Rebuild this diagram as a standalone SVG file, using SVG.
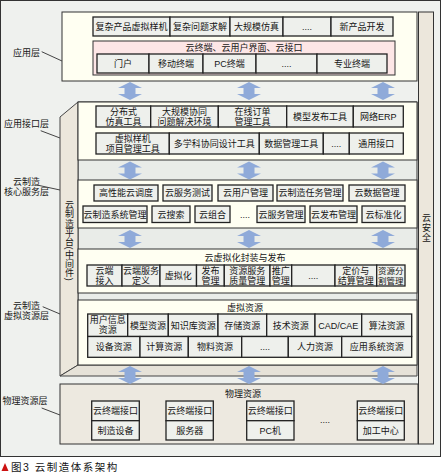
<svg xmlns="http://www.w3.org/2000/svg" width="442" height="475" viewBox="0 0 442 475">
<defs>
<style>
text{font-family:"Liberation Sans","Noto Sans CJK SC",sans-serif;font-size:9px;fill:#151515}
.c{text-anchor:middle}
.bx{fill:#eef0ec;stroke:#222;stroke-width:1.3}
.sec{fill:#fffff2;stroke:#333;stroke-width:1}
.pink{fill:#fde6e6;stroke:#333;stroke-width:1}
.lead{stroke:#444;stroke-width:1;fill:none}
.arr{fill:#8faad9}
.vt{writing-mode:vertical-rl;font-size:9px;letter-spacing:0.3px}
</style>
<path id="ar" d="M0,0 L12,6 L5.5,6 L5.5,12 L12,12 L0,18 L-12,12 L-5.5,12 L-5.5,6 L-12,6 Z"/>
</defs>
<rect x="0.5" y="0.5" width="440" height="456" fill="#eff1ee" stroke="#333" stroke-width="1"/>

<g id="cloud-security">
<rect x="418.5" y="12" width="15" height="432" fill="#ece7dc" stroke="#333" stroke-width="1"/>
<text class="vt" x="426" y="213" style="letter-spacing:1px">云安全</text>
</g>

<g id="app-layer">
<rect class="sec" x="62" y="12" width="355" height="69"/>
<rect class="bx" x="93" y="17" width="77" height="19"/>
<rect class="bx" x="170" y="17" width="60" height="19"/>
<rect class="bx" x="230" y="17" width="53" height="19"/>
<rect class="bx" x="283" y="17" width="48" height="19"/>
<rect class="bx" x="331" y="17" width="62" height="19"/>
<text class="c" x="131.5" y="29.8">复杂产品虚拟样机</text>
<text class="c" x="200" y="29.8">复杂问题求解</text>
<text class="c" x="256.5" y="29.8">大规模仿真</text>
<text class="c" x="307" y="29.8">....</text>
<text class="c" x="362" y="29.8">新产品开发</text>
<rect class="pink" x="93" y="41" width="302" height="34"/>
<text class="c" x="244" y="50.5">云终端、云用户界面、云接口</text>
<rect class="bx" x="97" y="54" width="52" height="19"/>
<rect class="bx" x="149" y="54" width="54" height="19"/>
<rect class="bx" x="203" y="54" width="53" height="19"/>
<rect class="bx" x="256" y="54" width="61" height="19"/>
<rect class="bx" x="317" y="54" width="70" height="19"/>
<text class="c" x="123" y="66.8">门户</text>
<text class="c" x="176" y="66.8">移动终端</text>
<text class="c" x="229.5" y="66.8">PC终端</text>
<text class="c" x="286.5" y="66.8">....</text>
<text class="c" x="352" y="66.8">专业终端</text>
</g>

<g id="platform">
<polygon points="78,102 417,102 417,365 78,365" fill="#e9ece8" stroke="#333" stroke-width="1"/>
<polygon points="60,117 78,102 78,365 60,376" fill="#ece7dc" stroke="#444" stroke-width="1"/>
<polygon points="60,376 78,365 417,365 417,376" fill="#e6e2d8" stroke="#444" stroke-width="1"/>
<text class="vt" x="69" y="200">云制造平台(中间件)</text>
</g>

<g id="app-interface-layer">
<rect class="sec" x="78" y="102" width="339" height="58"/>
<rect class="bx" x="96" y="106" width="54.7" height="21"/>
<rect class="bx" x="150.7" y="106" width="67.6" height="21"/>
<rect class="bx" x="218.3" y="106" width="68.4" height="21"/>
<rect class="bx" x="286.7" y="106" width="66.6" height="21"/>
<rect class="bx" x="353.3" y="106" width="50" height="21"/>
<text class="c" x="123.4" y="114.9">分布式</text><text class="c" x="123.4" y="124.9">仿真工具</text>
<text class="c" x="184.5" y="114.9">大规模协同</text><text class="c" x="184.5" y="124.9">问题解决环境</text>
<text class="c" x="252.5" y="114.9">在线订单</text><text class="c" x="252.5" y="124.9">管理工具</text>
<text class="c" x="320" y="119.9">模型发布工具</text>
<text class="c" x="378.3" y="119.9">网络ERP</text>
<rect class="bx" x="96" y="133" width="73.3" height="21"/>
<rect class="bx" x="169.3" y="133" width="90" height="21"/>
<rect class="bx" x="259.3" y="133" width="64" height="21"/>
<rect class="bx" x="323.3" y="133" width="26" height="21"/>
<rect class="bx" x="349.3" y="133" width="54" height="21"/>
<text class="c" x="132.7" y="141.9">虚拟样机</text><text class="c" x="132.7" y="151.9">项目管理工具</text>
<text class="c" x="214.3" y="146.9">多学科协同设计工具</text>
<text class="c" x="291.3" y="146.9">数据管理工具</text>
<text class="c" x="336.3" y="146.9">....</text>
<text class="c" x="376.3" y="146.9">通用接口</text>
</g>

<g id="core-service-layer">
<rect class="sec" x="78" y="180" width="339" height="48"/>
<rect class="bx" x="94" y="185" width="64" height="16"/>
<rect class="bx" x="163" y="185" width="49" height="16"/>
<rect class="bx" x="218" y="185" width="55" height="16"/>
<rect class="bx" x="277" y="185" width="66" height="16"/>
<rect class="bx" x="349" y="185" width="56" height="16"/>
<text class="c" x="126" y="196.3">高性能云调度</text>
<text class="c" x="187.5" y="196.3">云服务测试</text>
<text class="c" x="245.5" y="196.3">云用户管理</text>
<text class="c" x="310" y="196.3">云制造任务管理</text>
<text class="c" x="377" y="196.3">云数据管理</text>
<rect class="bx" x="83" y="206" width="64" height="16.5"/>
<rect class="bx" x="152" y="206" width="38" height="16.5"/>
<rect class="bx" x="195" y="206" width="35" height="16.5"/>
<rect class="bx" x="257" y="206" width="48" height="16.5"/>
<rect class="bx" x="310" y="206" width="47" height="16.5"/>
<rect class="bx" x="362" y="206" width="43" height="16.5"/>
<text class="c" x="115" y="217.6">云制造系统管理</text>
<text class="c" x="171" y="217.6">云搜索</text>
<text class="c" x="212.5" y="217.6">云组合</text>
<text class="c" x="245" y="217.6">....</text>
<text class="c" x="281" y="217.6">云服务管理</text>
<text class="c" x="333.5" y="217.6">云发布管理</text>
<text class="c" x="383.5" y="217.6">云标准化</text>
</g>

<g id="virtualization-layer">
<rect class="sec" x="78" y="249" width="339" height="44"/>
<text class="c" x="245" y="261">云虚拟化封装与发布</text>
<rect class="bx" x="87" y="265" width="35" height="21"/>
<rect class="bx" x="122" y="265" width="38" height="21"/>
<rect class="bx" x="160" y="265" width="36.5" height="21"/>
<rect class="bx" x="196.5" y="265" width="27.8" height="21"/>
<rect class="bx" x="224.3" y="265" width="45.7" height="21"/>
<rect class="bx" x="270" y="265" width="21.7" height="21"/>
<rect class="bx" x="291.7" y="265" width="43.3" height="21"/>
<rect class="bx" x="335" y="265" width="41.7" height="21"/>
<rect class="bx" x="376.7" y="265" width="28.3" height="21"/>
<text class="c" x="104.5" y="273.9">云端</text><text class="c" x="104.5" y="283.9">接入</text>
<text class="c" x="141" y="273.9">云端服务</text><text class="c" x="141" y="283.9">定义</text>
<text class="c" x="178.25" y="278.9">虚拟化</text>
<text class="c" x="210.4" y="273.9">发布</text><text class="c" x="210.4" y="283.9">管理</text>
<text class="c" x="247.15" y="273.9">资源服务</text><text class="c" x="247.15" y="283.9">质量管理</text>
<text class="c" x="280.85" y="273.9">推广</text><text class="c" x="280.85" y="283.9">管理</text>
<text class="c" x="313.35" y="278.9">....</text>
<text class="c" x="355.85" y="273.9">定价与</text><text class="c" x="355.85" y="283.9">结算管理</text>
<text class="c" x="390.85" y="273.9" style="font-size:8.5px">资源分</text><text class="c" x="390.85" y="283.9" style="font-size:8.5px">割管理</text>
</g>

<g id="virtual-resource-layer">
<rect class="sec" x="78" y="300" width="339" height="65"/>
<text class="c" x="245" y="311">虚拟资源</text>
<rect class="bx" x="87.7" y="314" width="40" height="22.5"/>
<rect class="bx" x="127.7" y="314" width="40.6" height="22.5"/>
<rect class="bx" x="168.3" y="314" width="49.7" height="22.5"/>
<rect class="bx" x="218" y="314" width="48.7" height="22.5"/>
<rect class="bx" x="266.7" y="314" width="48.3" height="22.5"/>
<rect class="bx" x="315" y="314" width="46.7" height="22.5"/>
<rect class="bx" x="361.7" y="314" width="50" height="22.5"/>
<text class="c" x="107.7" y="323.4">用户信息</text><text class="c" x="107.7" y="333.4">资源</text>
<text class="c" x="148" y="328.6">模型资源</text>
<text class="c" x="193.15" y="328.6">知识库资源</text>
<text class="c" x="242.35" y="328.6">存储资源</text>
<text class="c" x="290.85" y="328.6">技术资源</text>
<text class="c" x="338.35" y="328.6">CAD/CAE</text>
<text class="c" x="386.7" y="328.6">算法资源</text>
<rect class="bx" x="87.7" y="336.5" width="52.3" height="20.8"/>
<rect class="bx" x="140" y="336.5" width="48.3" height="20.8"/>
<rect class="bx" x="188.3" y="336.5" width="53.4" height="20.8"/>
<rect class="bx" x="241.7" y="336.5" width="46.6" height="20.8"/>
<rect class="bx" x="288.3" y="336.5" width="53.4" height="20.8"/>
<rect class="bx" x="341.7" y="336.5" width="70" height="20.8"/>
<text class="c" x="113.85" y="350.3">设备资源</text>
<text class="c" x="164.15" y="350.3">计算资源</text>
<text class="c" x="215" y="350.3">物料资源</text>
<text class="c" x="265" y="350.3">....</text>
<text class="c" x="315" y="350.3">人力资源</text>
<text class="c" x="376.7" y="350.3">应用系统资源</text>
</g>

<g id="physical-resource-layer">
<rect x="60" y="384" width="358" height="60" fill="#ede9e0" stroke="#333" stroke-width="1"/>
<text class="c" x="243" y="396.5">物理资源</text>
<rect class="bx" x="91.7" y="401" width="47.6" height="19.7"/>
<rect class="bx" x="91.7" y="420.7" width="47.6" height="19.3"/>
<rect class="bx" x="166" y="401" width="47.3" height="19.7"/>
<rect class="bx" x="166" y="420.7" width="47.3" height="19.3"/>
<rect class="bx" x="246.7" y="401" width="47.3" height="19.7"/>
<rect class="bx" x="246.7" y="420.7" width="47.3" height="19.3"/>
<rect class="bx" x="357.3" y="401" width="47" height="19.7"/>
<rect class="bx" x="357.3" y="420.7" width="47" height="19.3"/>
<text class="c" x="115.5" y="414.2">云终端接口</text><text class="c" x="115.5" y="433.7">制造设备</text>
<text class="c" x="189.65" y="414.2">云终端接口</text><text class="c" x="189.65" y="433.7">服务器</text>
<text class="c" x="270.35" y="414.2">云终端接口</text><text class="c" x="270.35" y="433.7">PC机</text>
<text class="c" x="325" y="423">....</text>
<text class="c" x="380.8" y="414.2">云终端接口</text><text class="c" x="380.8" y="433.7">加工中心</text>
</g>

<g id="layer-labels">
<text class="c" x="26.5" y="56">应用层</text>
<text class="c" x="26.5" y="127">应用接口层</text>
<text class="c" x="26.5" y="185">云制造</text>
<text class="c" x="26.5" y="195">核心服务层</text>
<text class="c" x="26.5" y="309">云制造</text>
<text class="c" x="26.5" y="319">虚拟资源层</text>
<text class="c" x="25" y="404">物理资源层</text>
</g>

<g id="connectors">
<line class="lead" x1="41.7" y1="51.7" x2="62" y2="61"/>
<line class="lead" x1="40.7" y1="130.7" x2="60" y2="138"/>
<line class="lead" x1="37" y1="185" x2="60" y2="190"/>
<line class="lead" x1="42.7" y1="306.7" x2="60" y2="314"/>
<line class="lead" x1="41.7" y1="408" x2="60" y2="415"/>
<g class="arr">
<use href="#ar" x="130" y="82"/><use href="#ar" x="249" y="82"/><use href="#ar" x="383" y="82"/>
<use href="#ar" x="130" y="161.5"/><use href="#ar" x="249" y="161.5"/><use href="#ar" x="383" y="161.5"/>
<use href="#ar" x="130" y="230"/><use href="#ar" x="249" y="230"/><use href="#ar" x="383" y="230"/>
<use href="#ar" x="130" y="366"/><use href="#ar" x="249" y="366"/><use href="#ar" x="383" y="366"/>
</g>
</g>

<g id="caption">
<polygon points="5,463 8.5,471 1.5,471" fill="#cc1111"/>
<text x="11" y="471" style="font-size:10.5px;letter-spacing:1.5px">图3 云制造体系架构</text>
</g>
</svg>
